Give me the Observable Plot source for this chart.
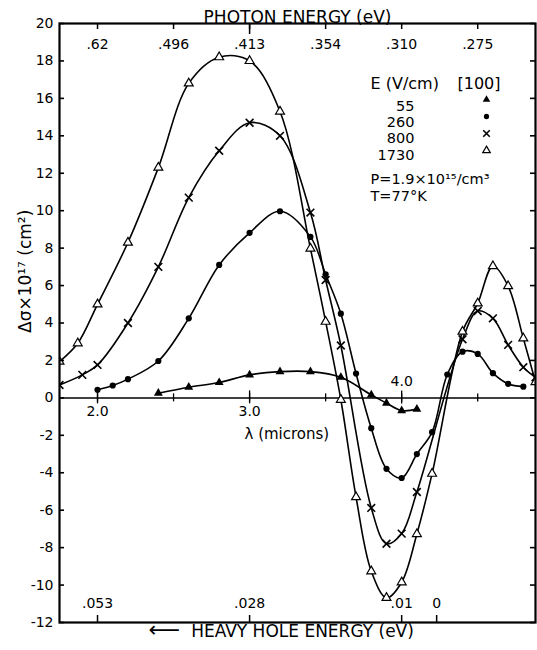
<!DOCTYPE html>
<html>
<head>
<meta charset="utf-8">
<script src="https://cdn.jsdelivr.net/npm/d3@7"></script>
<script src="https://cdn.jsdelivr.net/npm/@observablehq/plot@0.6"></script>
<style>
  html, body { margin: 0; padding: 0; background: #fff; }
  #chart svg { display: block; }
</style>
</head>
<body>
<div id="chart"></div>
<script>
// ---- data ----
const lam55  = [2.4, 2.6, 2.8, 3.0, 3.2, 3.4, 3.6, 3.8, 3.9, 4.0, 4.1];
const val55  = [0.25, 0.57, 0.82, 1.23, 1.40, 1.40, 1.10, 0.16, -0.28, -0.68, -0.60];

const lam260 = [2.0, 2.1, 2.2, 2.4, 2.6, 2.8, 3.0, 3.2, 3.4, 3.5, 3.6, 3.7, 3.8, 3.9, 4.0, 4.1, 4.2, 4.3, 4.4, 4.5, 4.6, 4.7, 4.8];
const val260 = [0.43, 0.66, 1.0, 1.97, 4.25, 7.1, 8.82, 9.97, 8.6, 6.6, 4.5, 1.3, -1.62, -3.79, -4.28, -3.0, -1.83, 1.25, 2.47, 2.35, 1.32, 0.75, 0.6];

const lam800 = [1.75, 1.9, 2.0, 2.2, 2.4, 2.6, 2.8, 3.0, 3.2, 3.4, 3.5, 3.6, 3.8, 3.9, 4.0, 4.1, 4.4, 4.5, 4.6, 4.7, 4.8, 4.88];
const val800 = [0.69, 1.23, 1.76, 4.0, 7.0, 10.7, 13.2, 14.7, 14.0, 9.9, 6.3, 2.8, -5.88, -7.79, -7.25, -5.03, 3.13, 4.64, 4.25, 2.83, 1.64, 1.1];

const lam1730 = [1.75, 1.87, 2.0, 2.2, 2.4, 2.6, 2.8, 3.0, 3.2, 3.4, 3.5, 3.6, 3.7, 3.8, 3.9, 4.0, 4.1, 4.2, 4.4, 4.5, 4.6, 4.7, 4.8, 4.88];
const val1730 = [1.94, 2.92, 5.0, 8.3, 12.3, 16.8, 18.2, 18.0, 15.3, 7.98, 4.07, -0.1, -5.3, -9.26, -10.68, -9.85, -7.27, -4.05, 3.54, 5.05, 7.04, 5.97, 3.18, 0.85];

const fieldLabels = ["55", "260", "800", "1730"];

const yTicks = [-12, -10, -8, -6, -4, -2, 0, 2, 4, 6, 8, 10, 12, 14, 16, 18, 20];
const micronTicks = [2.0, 2.5, 3.0, 3.5, 4.0, 4.5];
const micronMajor = [2.0, 3.0, 4.0];
const micronLabelsBelow = [{lam: 2.0, text: "2.0"}, {lam: 3.0, text: "3.0"}];
const micronLabelsAbove = [{lam: 4.0, text: "4.0"}];
const photonLam = [2.0, 2.5, 3.0, 3.5, 4.0, 4.5];
const photonLabels = [".62", ".496", ".413", ".354", ".310", ".275"];
const hhLam = [2.0, 3.0, 4.0, 4.23];
const hhLabels = [".053", ".028", ".01", "0"];

// ---- build tables ----
const series = [
  {E: "55", lam: lam55, val: val55},
  {E: "260", lam: lam260, val: val260},
  {E: "800", lam: lam800, val: val800},
  {E: "1730", lam: lam1730, val: val1730}
];
const rows = series.flatMap(s => s.lam.map((l, i) => ({E: s.E, lam: l, val: s.val[i]})));
const of = e => rows.filter(d => d.E === e);

const FONT = "DejaVu Sans";
const W = 537, H = 650, mL = 59, mR = 2, mT = 23, mB = 28;
const pw = W - mL - mR, ph = H - mT - mB;

const markStyle = {
  "55":   {symbol: "triangle", fill: "black", stroke: "none", r: 3.3},
  "260":  {symbol: "circle", fill: "black", stroke: "none", r: 3.1},
  "800":  {symbol: "times", fill: "none", stroke: "black", strokeWidth: 1.6, r: 3.6},
  "1730": {symbol: "triangle", fill: "white", stroke: "black", strokeWidth: 1.2, r: 3.3}
};

const marks = [
  // zero line + micron ticks on it
  Plot.ruleY([0], {strokeWidth: 1.5}),
  Plot.ruleX(micronTicks, {x: d => d, y1: 0, y2: 0, insetTop: -4, insetBottom: -4, strokeWidth: 1.3}),
  Plot.ruleX(micronMajor, {x: d => d, y1: 0, y2: 0, insetTop: -7, insetBottom: -6, strokeWidth: 1.3}),
  Plot.text(micronLabelsBelow, {x: "lam", y: () => 0, text: "text", dy: 14, fontSize: 14, fontFamily: FONT}),
  Plot.text(micronLabelsAbove, {x: "lam", y: () => 0, text: "text", dy: -16, fontSize: 14, fontFamily: FONT}),
  Plot.text(["λ (microns)"], {frameAnchor: "left", dx: 185, dy: 111, fontSize: 15, fontFamily: FONT}),

  // curves
  Plot.line(rows, {x: "lam", y: "val", z: "E", curve: "catmull-rom", stroke: "black", strokeWidth: 1.6, clip: true}),

  // markers
  ...fieldLabels.map(e => Plot.dot(of(e), {x: "lam", y: "val", ...markStyle[e], clip: true})),

  // frame
  Plot.frame({strokeWidth: 2.2}),

  // left/right y ticks (inward)
  Plot.tickY(yTicks, {y: d => d, insetRight: pw - 5, strokeWidth: 1.6}),
  Plot.tickY(yTicks, {y: d => d, insetLeft: pw - 5, strokeWidth: 1.6}),
  Plot.text(yTicks, {y: d => d, text: d => String(d), frameAnchor: "left", textAnchor: "end", dx: -6, fontSize: 14, fontFamily: FONT}),

  // top photon-energy ticks
  Plot.tickX(photonLam, {x: d => d, insetBottom: ph - 6, strokeWidth: 1.5}),
  Plot.tickX([photonLam[2]], {x: d => d, insetBottom: ph - 11, strokeWidth: 1.5}),
  Plot.text(photonLam, {x: d => d, text: (d, i) => photonLabels[i], frameAnchor: "top", dy: 16, fontSize: 14, fontFamily: FONT}),
  Plot.text(["PHOTON ENERGY (eV)"], {frameAnchor: "top", dy: -13, fontSize: 17, fontFamily: FONT}),

  // bottom heavy-hole-energy ticks
  Plot.tickX(hhLam, {x: d => d, insetTop: ph - 7, strokeWidth: 1.5}),
  Plot.text(hhLam, {x: d => d, text: (d, i) => hhLabels[i], frameAnchor: "bottom", dy: -15, fontSize: 14, fontFamily: FONT}),
  Plot.text(["HEAVY HOLE ENERGY (eV)"], {frameAnchor: "bottom", dx: 5, dy: 14, fontSize: 17, fontFamily: FONT}),
  Plot.text(["⟵"], {frameAnchor: "bottom-left", dx: 89, dy: 14, textAnchor: "start", fontSize: 22, fontFamily: FONT}),

  // y-axis title
  Plot.text(["Δσ×10¹⁷ (cm²)"], {frameAnchor: "left", dx: -34, dy: 10, rotate: -90, fontSize: 17, fontFamily: FONT}),

  // legend block
  Plot.text(["E (V/cm)"], {frameAnchor: "top-left", dx: 311, dy: 54, textAnchor: "start", fontSize: 16, fontFamily: FONT}),
  Plot.text(["[100]"], {frameAnchor: "top-left", dx: 398, dy: 54, textAnchor: "start", fontSize: 16, fontFamily: FONT}),
  ...fieldLabels.map((e, i) => Plot.text([e], {frameAnchor: "top-left", dx: 355, dy: 77 + i * 16.3, textAnchor: "end", fontSize: 14.5, fontFamily: FONT})),
  ...fieldLabels.map((e, i) => Plot.dot([e], {frameAnchor: "top-left", dx: 427, dy: 76 + i * 17, ...markStyle[e], r: markStyle[e].r * 0.85})),
  Plot.text(["P=1.9×10¹⁵/cm³"], {frameAnchor: "top-left", dx: 311, dy: 150, textAnchor: "start", fontSize: 14.5, fontFamily: FONT}),
  Plot.text(["T=77°K"], {frameAnchor: "top-left", dx: 311, dy: 167, textAnchor: "start", fontSize: 14.5, fontFamily: FONT})
];

const chart = Plot.plot({
  width: W,
  height: H,
  marginLeft: mL,
  marginRight: mR,
  marginTop: mT,
  marginBottom: mB,
  style: {fontFamily: FONT, background: "white", color: "black"},
  x: {domain: [1.75, 4.88], axis: null},
  y: {domain: [-12, 20], axis: null},
  marks
});
document.getElementById("chart").appendChild(chart);
</script>
</body>
</html>
